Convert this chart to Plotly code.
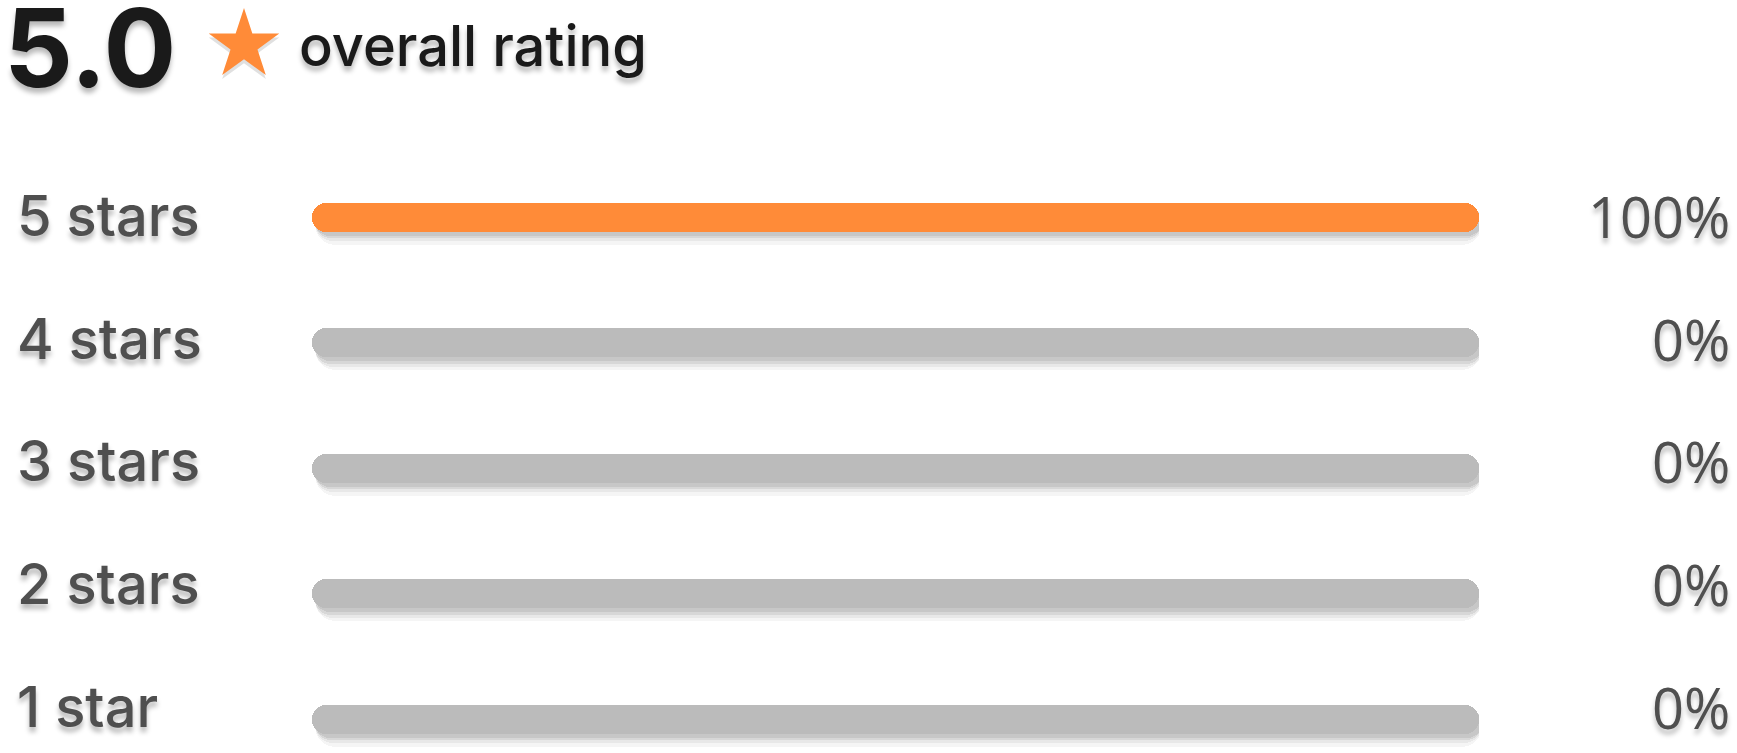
import plotly.graph_objects as go

# ---- data ----
categories = ["5 stars", "4 stars", "3 stars", "2 stars", "1 star"]
percentages = [100, 0, 0, 0, 0]
pct_labels = ["100%", "0%", "0%", "0%", "0%"]
track = [100, 100, 100, 100, 100]
overall_value = "5.0"
overall_text = "overall rating"

# ---- styling ----
W, H = 1737, 753
ORANGE = "#FF8B38"
GREY = "#BBBBBB"
LABEL = "#4F4F4F"
DARK = "#1A1A1A"
SHADOW = "0px 5px 5px rgba(0,0,0,0.28)"
row_px = 125.5
bar_px = 29
bw = bar_px / row_px
order = list(reversed(categories))

fig = go.Figure()


def pill(values, color, w, off, shift_x=0.0):
    """Horizontal bar rounded at both ends (explicit base => both ends rounded)."""
    fig.add_trace(go.Bar(
        y=categories, x=values, base=[shift_x] * len(values),
        orientation="h", width=w, offset=off,
        marker=dict(color=color, cornerradius="50%", line_width=0),
        hoverinfo="skip", showlegend=False))


# soft bar shadows
for dy, alpha, extra in [(7, 0.04, 12), (6, 0.05, 7), (5, 0.07, 3), (4, 0.07, 0)]:
    w = bw + extra / row_px
    pill(track, f"rgba(0,0,0,{alpha})", w, -w / 2 - dy / row_px, shift_x=0.25)

# grey tracks
pill(track, GREY, bw, -bw / 2)
# orange fill
pill(percentages, ORANGE, bw, -bw / 2)

# star icon (on a page-spanning axis pair)
for dy, col in [(4, "rgba(0,0,0,0.12)"), (0, ORANGE)]:
    fig.add_trace(go.Scatter(
        x=[244 / W], y=[1 - (45 + dy) / H], xaxis="x2", yaxis="y2", mode="markers",
        marker=dict(symbol="star", size=53, color=col, line_width=0),
        hoverinfo="skip", showlegend=False, cliponaxis=False))

annotations = []
for k, (cat, lab) in enumerate(zip(categories, pct_labels)):
    shift = 1 + 2.8 * k
    annotations.append(dict(
        x=15 / W, xref="paper", y=cat, yref="y", xanchor="left", yanchor="middle",
        text=cat, showarrow=False, yshift=shift,
        font=dict(family="Inter", size=56, weight=500, color=LABEL, shadow=SHADOW)))
    annotations.append(dict(
        x=1732 / W, xref="paper", y=cat, yref="y", xanchor="right", yanchor="middle",
        text=lab, showarrow=False, yshift=shift,
        font=dict(family="Open Sans", size=56, weight=500, color=LABEL, shadow=SHADOW)))

annotations.append(dict(
    x=2 / W, xref="paper", y=1 - 48 / H, yref="paper", xanchor="left", yanchor="middle",
    text=f"<b>{overall_value}</b>", showarrow=False,
    font=dict(family="Inter", size=108, color=DARK, shadow=SHADOW)))
annotations.append(dict(
    x=297 / W, xref="paper", y=1 - 46 / H, yref="paper", xanchor="left", yanchor="middle",
    text=overall_text, showarrow=False,
    font=dict(family="Inter", size=56, weight=500, color=DARK, shadow=SHADOW)))

fig.update_layout(
    width=W, height=H, margin=dict(l=0, r=0, t=0, b=0),
    paper_bgcolor="white", plot_bgcolor="rgba(0,0,0,0)",
    barmode="overlay", bargap=0,
    xaxis=dict(range=[0, 100], domain=[312 / W, 1479 / W], visible=False, fixedrange=True),
    yaxis=dict(type="category", categoryorder="array", categoryarray=order,
               range=[-(H - 719) / row_px, 4 + 217 / row_px], domain=[0, 1],
               visible=False, fixedrange=True),
    xaxis2=dict(range=[0, 1], domain=[0, 1], anchor="y2", visible=False, fixedrange=True),
    yaxis2=dict(range=[0, 1], domain=[0, 1], anchor="x2", visible=False, fixedrange=True),
    annotations=annotations,
    hovermode=False,
)

fig.write_html("out.html")
